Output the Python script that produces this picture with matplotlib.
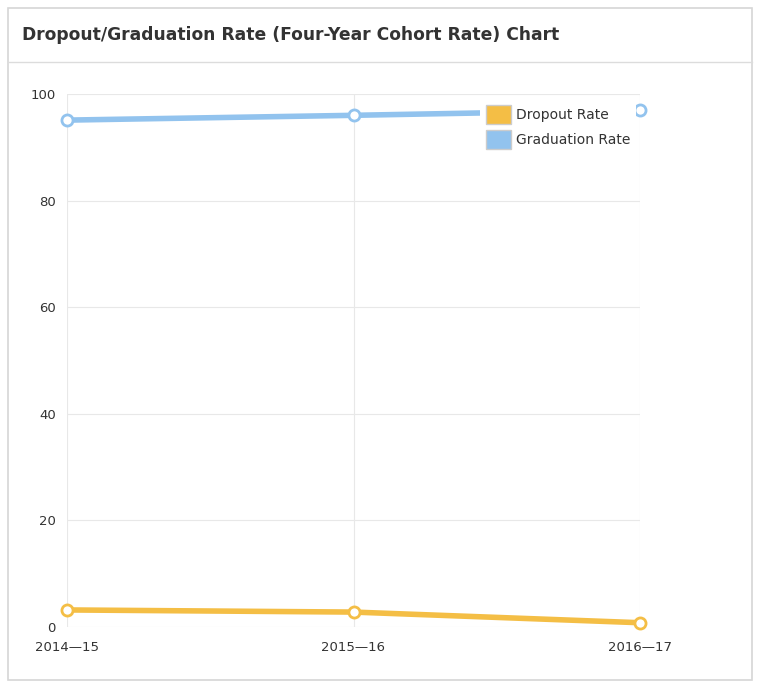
import matplotlib.pyplot as plt
from matplotlib.patches import Rectangle, Patch
from matplotlib.lines import Line2D

# Cohort rates by school year
years = ["2014\u201415", "2015\u201416", "2016\u201417"]
dropout_rate = [3.2, 2.8, 0.8]
graduation_rate = [95.1, 96.0, 97.0]

orange = "#F4BE45"
blue = "#92C3EE"

fig = plt.figure(figsize=(7.59, 6.87), dpi=100)
fig.patch.set_facecolor("white")

# Panel frame and title band (kept behind the axes)
fig.add_artist(Rectangle((8 / 759, 1 - 680 / 687), 744 / 759, 672 / 687,
                         transform=fig.transFigure, facecolor="white",
                         edgecolor="#d6d6d6", linewidth=1.2, zorder=-2))
fig.add_artist(Line2D([8 / 759, 752 / 759], [1 - 62 / 687, 1 - 62 / 687],
                      transform=fig.transFigure, color="#dcdcdc", linewidth=1,
                      zorder=-1))
fig.text(22 / 759, 1 - 35 / 687, "Dropout/Graduation Rate (Four-Year Cohort Rate) Chart",
         fontsize=12.3, fontweight="bold", color="#333333", va="center", ha="left")

ax = fig.add_axes([67 / 759, 1 - 627 / 687, 573 / 759, 533 / 687])
ax.patch.set_alpha(0)
x = range(len(years))

ax.plot(x, dropout_rate, color=orange, linewidth=4, marker="o", markersize=8,
        markerfacecolor="white", markeredgecolor=orange, markeredgewidth=2,
        clip_on=False, zorder=3)
ax.plot(x, graduation_rate, color=blue, linewidth=4, marker="o", markersize=8,
        markerfacecolor="white", markeredgecolor=blue, markeredgewidth=2,
        clip_on=False, zorder=3)

ax.set_xlim(0, len(years) - 1)
ax.set_ylim(0, 100)
ax.set_xticks(list(x))
ax.set_xticklabels(years)
ax.set_yticks([0, 20, 40, 60, 80, 100])

for s in ax.spines.values():
    s.set_visible(False)
ax.grid(True, color="#e8e8e8", linewidth=0.8)
ax.set_axisbelow(True)
ax.tick_params(length=0, labelsize=9.5, colors="#333333")
ax.tick_params(axis="x", pad=10)
ax.tick_params(axis="y", pad=8)

handles = [Patch(facecolor=orange, edgecolor="#cccccc", label="Dropout Rate"),
           Patch(facecolor=blue, edgecolor="#cccccc", label="Graduation Rate")]
leg = ax.legend(handles=handles, loc="upper right", bbox_to_anchor=(0.993, 0.99),
                borderaxespad=0, fontsize=10, frameon=True, fancybox=False,
                framealpha=1, handlelength=1.8, handleheight=1.7,
                handletextpad=0.4, borderpad=0.4, labelspacing=0.45,
                labelcolor="#333333")
leg.get_frame().set_edgecolor("white")
leg.get_frame().set_linewidth(0)
leg.set_zorder(5)

fig.savefig("out.png", dpi=100)
